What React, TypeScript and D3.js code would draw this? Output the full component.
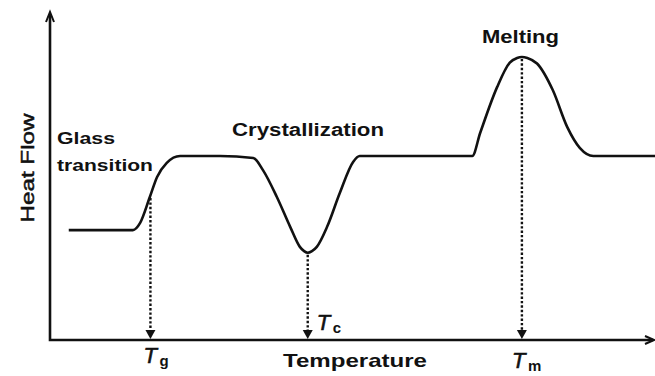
import React from "react";
import * as d3 from "d3";

// DSC thermogram: heat flow vs temperature (arbitrary units, 0–100)
const temperature = [
  3.1, 13.7, 14.9, 16.5, 17.7, 19.3, 21.5, 28.1, 33.6, 35.2, 37.5, 39.7, 41.3,
  42.0, 42.6, 43.3, 44.1, 45.8, 47.9, 50.1, 51.2, 69.8, 71.1, 73.9, 76.0, 77.2,
  78.0, 78.9, 80.5, 83.1, 85.5, 87.6, 89.8, 100,
];
const heatFlow = [
  33.5, 33.5, 35.7, 43.6, 49.7, 54.0, 56.1, 56.1, 55.5, 51.8, 43.6, 34.5, 28.4,
  27.1, 26.6, 27.1, 28.4, 34.5, 44.8, 54.3, 56.1, 56.1, 63.1, 77.1, 84.6, 86.0,
  86.3, 86.0, 84.3, 76.2, 64.9, 58.5, 56.1, 56.1,
];

// Characteristic temperatures marked on the axis
const markerNames = ["g", "c", "m"];
const markerTemps = [16.6, 42.6, 78.0];
const markerFlows = [43.9, 26.6, 86.3];

// Region annotations
const regionLabels = ["Crystallization", "Melting"];

const W = 655;
const H = 376;
const X0 = 50;
const Y0 = 340;
const Y_TOP = 12;

export default function App() {
  const x = d3.scaleLinear().domain([0, 100]).range([X0, W]);
  const y = d3.scaleLinear().domain([0, 100]).range([Y0, Y_TOP]);

  const pts = temperature.map((t, i) => [t, heatFlow[i]] as [number, number]);
  const line = d3
    .line<[number, number]>()
    .x((d) => x(d[0]))
    .y((d) => y(d[1]))
    .curve(d3.curveMonotoneX);

  const font = "'Liberation Sans', Arial, sans-serif";
  const ink = "#111";

  // offsets of each T label from its drop line: [dx, baseline below axis, subscript dx]
  const tPos: Record<string, [number, number, number]> = {
    g: [-7, 23, 2],
    c: [9, -10, 2],
    m: [-10, 28, 2],
  };

  return (
    <svg
      width={W}
      height={H}
      style={{ position: "absolute", left: 0, top: 0, background: "#fff" }}
    >
      {/* axes */}
      <path
        d={`M${X0},${Y_TOP + 2} L${X0},${Y0} L${W - 2},${Y0}`}
        fill="none"
        stroke={ink}
        strokeWidth={2.6}
      />
      <path
        d={`M${X0 - 4},${Y_TOP + 10} L${X0},${Y_TOP} L${X0 + 4},${Y_TOP + 10}`}
        fill="none"
        stroke={ink}
        strokeWidth={2}
      />
      <path
        d={`M${W - 10},${Y0 - 4} L${W - 1},${Y0} L${W - 10},${Y0 + 4}`}
        fill="none"
        stroke={ink}
        strokeWidth={2}
      />

      {/* DSC curve */}
      <path d={line(pts) ?? ""} fill="none" stroke={ink} strokeWidth={2.6} />

      {/* dotted drop lines with arrowheads */}
      {markerTemps.map((t, i) => {
        const px = x(t);
        const py = y(markerFlows[i]);
        return (
          <g key={markerNames[i]}>
            <line
              x1={px}
              x2={px}
              y1={py + 2}
              y2={Y0 - 8}
              stroke={ink}
              strokeWidth={2.4}
              strokeDasharray="2.4 2"
            />
            <path
              d={`M${px - 5},${Y0 - 10} L${px + 5},${Y0 - 10} L${px},${Y0 - 1} Z`}
              fill={ink}
            />
          </g>
        );
      })}

      {/* T labels */}
      {markerTemps.map((t, i) => {
        const name = markerNames[i];
        const [dx, base, sdx] = tPos[name];
        const px = x(t) + dx;
        const by = Y0 + base;
        return (
          <g key={"lbl" + name} fontFamily={font} fill={ink}>
            <text x={px} y={by} fontSize={22} fontStyle="italic" stroke={ink} strokeWidth={0.6}>
              T
            </text>
            <text x={px + 14 + sdx} y={by + 3} fontSize={15} fontWeight="bold">
              {name}
            </text>
          </g>
        );
      })}

      {/* annotations */}
      <g fontFamily={font} fill={ink} fontWeight="bold">
        <text x={57} y={144} fontSize={17} textLength={58} lengthAdjust="spacingAndGlyphs">
          Glass
        </text>
        <text x={57} y={171} fontSize={17} textLength={96} lengthAdjust="spacingAndGlyphs">
          transition
        </text>
        <text x={232} y={136} fontSize={18} textLength={152} lengthAdjust="spacingAndGlyphs">
          {regionLabels[0]}
        </text>
        <text x={482} y={43} fontSize={19} textLength={77} lengthAdjust="spacingAndGlyphs">
          {regionLabels[1]}
        </text>
        <text x={283} y={367} fontSize={19} textLength={144} lengthAdjust="spacingAndGlyphs">
          Temperature
        </text>
      </g>
      <text
        transform="translate(34,168) rotate(-90)"
        textAnchor="middle"
        fontFamily={font}
        fontSize={19}
        fill={ink}
        stroke={ink}
        strokeWidth={0.5}
        textLength={109}
        lengthAdjust="spacingAndGlyphs"
      >
        Heat Flow
      </text>
    </svg>
  );
}
